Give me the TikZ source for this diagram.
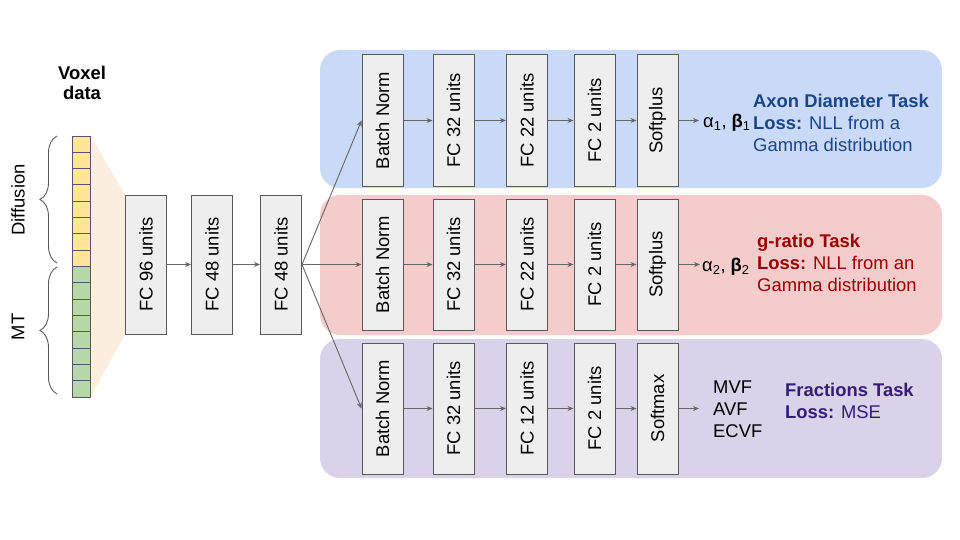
\documentclass[tikz,border=0pt]{standalone}
\usepackage{fontspec}
\setmainfont{Liberation Sans}
\usetikzlibrary{arrows.meta,decorations.pathreplacing,backgrounds}
\definecolor{axonband}{HTML}{C9DAF8}
\definecolor{gratioband}{HTML}{F4CCCC}
\definecolor{fracband}{HTML}{D9D2E9}
\definecolor{boxfill}{HTML}{EEEEEE}
\definecolor{boxline}{HTML}{595959}
\definecolor{flowgray}{HTML}{666666}
\definecolor{diffyellow}{HTML}{FFE599}
\definecolor{mtgreen}{HTML}{B6D7A8}
\definecolor{fancolor}{HTML}{FCEEDF}
\definecolor{axontext}{HTML}{1C4587}
\definecolor{gratiotext}{HTML}{990000}
\definecolor{fractext}{HTML}{351C75}
\tikzset{
	layer/.style={draw=boxline, fill=boxfill, line width=1pt, minimum width=41pt, minimum height=131pt, inner sep=0pt},
	sharedlayer/.style={layer, minimum height=139pt},
	band/.style={rounded corners=20pt},
	flow/.style={draw=flowgray, line width=0.9pt, -{Stealth[length=6pt,width=5pt]}},
	brace/.style={decorate, decoration={brace, amplitude=17pt}, draw=boxline, line width=0.9pt},
	cell/.style={draw=boxline, line width=0.9pt},
	tasklabel/.style={anchor=west, align=left, inner sep=0pt},
}

\begin{document}
\begin{tikzpicture}[x=1pt, y=-1pt, font=\fontsize{18.4}{22}\selectfont]
	\useasboundingbox (0,0) rectangle (960,540);
	\fill[band, axonband] (320,50) rectangle (942,188);
	\fill[band, gratioband] (320,195) rectangle (942,335);
	\fill[band, fracband] (320,339) rectangle (942,478);

	\node[align=center, font=\fontsize{18.4}{20}\bfseries] (voxeltitle) at (82,83) {Voxel\\data};
	\foreach \i in {0,...,7}
		\filldraw[cell, fill=diffyellow] (72,136+\i*16.3125) rectangle ++(18,16.3125);
	\foreach \i in {8,...,15}
		\filldraw[cell, fill=mtgreen] (72,136+\i*16.3125) rectangle ++(18,16.3125);
	\node[draw=boxline, line width=0.9pt, minimum width=18pt, minimum height=261pt, inner sep=0pt] (voxel) at (81,266.5) {};
	\draw[brace] (57,263) -- (57,136);
	\draw[brace] (57,394) -- (57,267);
	\node[rotate=90] (difflabel) at (18,200) {Diffusion};
	\node[rotate=90] (mtlabel) at (18,327) {MT};

	\node[sharedlayer] (fc96) at (146,264.5) {\rotatebox{90}{FC 96 units}};
	\node[sharedlayer] (fc48a) at (212,264.5) {\rotatebox{90}{FC 48 units}};
	\node[sharedlayer] (fc48b) at (281,264.5) {\rotatebox{90}{FC 48 units}};

	\node[layer] (axonbn) at (382.5,120.5) {\rotatebox{90}{Batch Norm}};
	\node[layer] (axonfca) at (453.5,120.5) {\rotatebox{90}{FC 32 units}};
	\node[layer] (axonfcb) at (527,120.5) {\rotatebox{90}{FC 22 units}};
	\node[layer] (axonfcc) at (594.5,120.5) {\rotatebox{90}{FC 2 units}};
	\node[layer] (axonact) at (657.5,120.5) {\rotatebox{90}{Softplus}};

	\node[layer] (gratiobn) at (382.5,264.5) {\rotatebox{90}{Batch Norm}};
	\node[layer] (gratiofca) at (453.5,264.5) {\rotatebox{90}{FC 32 units}};
	\node[layer] (gratiofcb) at (527,264.5) {\rotatebox{90}{FC 22 units}};
	\node[layer] (gratiofcc) at (594.5,264.5) {\rotatebox{90}{FC 2 units}};
	\node[layer] (gratioact) at (657.5,264.5) {\rotatebox{90}{Softplus}};

	\node[layer] (fracbn) at (382.5,408.5) {\rotatebox{90}{Batch Norm}};
	\node[layer] (fracfca) at (453.5,408.5) {\rotatebox{90}{FC 32 units}};
	\node[layer] (fracfcb) at (527,408.5) {\rotatebox{90}{FC 12 units}};
	\node[layer] (fracfcc) at (594.5,408.5) {\rotatebox{90}{FC 2 units}};
	\node[layer] (fracact) at (657.5,408.5) {\rotatebox{90}{Softmax}};

	\node[anchor=west, inner xsep=4pt] (axonout) at (699,123) {α\textsubscript{1}, \textbf{β}\textsubscript{1}};
	\node[anchor=west, inner xsep=2pt] (gratioout) at (700,267) {α\textsubscript{2}, \textbf{β}\textsubscript{2}};
	\node[anchor=west, inner xsep=0pt, align=left] (fracout) at (713,409) {MVF\\AVF\\ECVF};

	\node[tasklabel, text=axontext] (axontask) at (753,123) {\textbf{Axon Diameter Task}\\\textbf{Loss:} NLL from a\\Gamma distribution};
	\node[tasklabel, text=gratiotext] (gratiotask) at (757,263) {\textbf{g-ratio Task}\\\textbf{Loss:} NLL from an\\Gamma distribution};
	\node[tasklabel, text=fractext] (fractask) at (785,401) {\textbf{Fractions Task}\\\textbf{Loss:} MSE};

	\draw[flow] (fc96.east) -- (fc48a.west);
	\draw[flow] (fc48a.east) -- (fc48b.west);
	\foreach \r in {axon,gratio,frac} {
		\draw[flow] (fc48b.east) -- (\r bn.west);
		\foreach \a/\b in {bn/fca,fca/fcb,fcb/fcc,fcc/act}
			\draw[flow] (\r\a.east) -- (\r\b.west);
	}
	\draw[flow] (axonact.east) -- (axonact.east -| axonout.west);
	\draw[flow] (gratioact.east) -- (gratioact.east -| gratioout.west);
	\draw[flow] (fracact.east) -- ([xshift=-14pt]fracact.east -| fracout.west);

	\begin{scope}[on background layer]
		\fill[fancolor] (voxel.north east) -- (fc96.north west) -- (fc96.south west) -- (voxel.south east) -- cycle;
	\end{scope}
\end{tikzpicture}
\end{document}
